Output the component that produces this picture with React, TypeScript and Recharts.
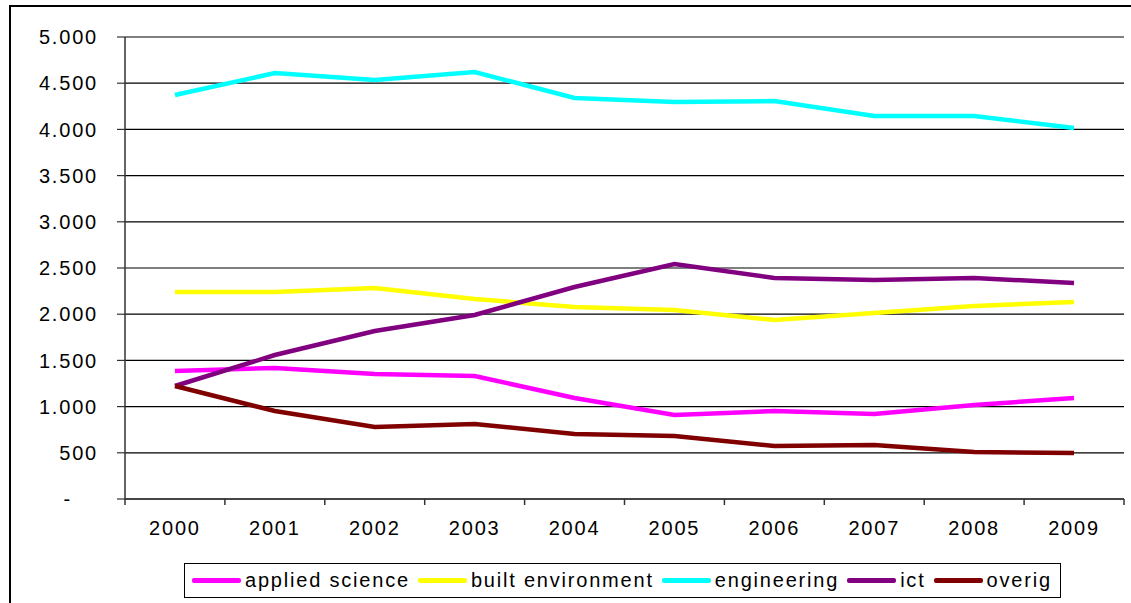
import React from 'react';
import { LineChart, Line, XAxis, YAxis, CartesianGrid } from 'recharts';

const years = [2000, 2001, 2002, 2003, 2004, 2005, 2006, 2007, 2008, 2009];
const appliedScience = [1385, 1418, 1353, 1331, 1093, 909, 952, 920, 1017, 1093];
const builtEnvironment = [2240, 2240, 2284, 2165, 2078, 2045, 1937, 2013, 2089, 2132];
const engineering = [4372, 4610, 4535, 4621, 4340, 4297, 4307, 4145, 4145, 4015];
const ict = [1223, 1558, 1818, 1991, 2294, 2543, 2392, 2370, 2392, 2338];
const overig = [1223, 952, 779, 812, 703, 682, 574, 584, 509, 498];
const yTicks = [0, 500, 1000, 1500, 2000, 2500, 3000, 3500, 4000, 4500, 5000];

const series = [
  { key: 'appliedScience', name: 'applied science', color: '#FF00FF', values: appliedScience },
  { key: 'builtEnvironment', name: 'built environment', color: '#FFFF00', values: builtEnvironment },
  { key: 'engineering', name: 'engineering', color: '#00FFFF', values: engineering },
  { key: 'ict', name: 'ict', color: '#800080', values: ict },
  { key: 'overig', name: 'overig', color: '#800000', values: overig },
];

const data = years.map((year, i) => {
  const row: Record<string, number> = { year };
  series.forEach((s) => {
    row[s.key] = s.values[i];
  });
  return row;
});

const W = 1131;
const H = 603;
const Y_AXIS_W = 125;
const RIGHT = 7;
const HALF_BAND = (W - Y_AXIS_W - RIGHT) / years.length / 2;
const FONT = "'Liberation Sans', Arial, sans-serif";
const FONT_SIZE = 20;
const SPACING = 1.8;

const fmt = (v: number) => String(v).replace(/\B(?=(\d{3})+(?!\d))/g, '.');

const YearTick = (props: any) => {
  const { x, y, payload, index } = props;
  const last = index === years.length - 1;
  return (
    <g>
      <line x1={x - HALF_BAND} x2={x - HALF_BAND} y1={y - 6} y2={y} stroke="#333" strokeWidth={1.5} />
      {last && <line x1={x + HALF_BAND} x2={x + HALF_BAND} y1={y - 6} y2={y} stroke="#333" strokeWidth={1.5} />}
      <text x={x} y={y + 30} textAnchor="middle" fontFamily={FONT} fontSize={FONT_SIZE} letterSpacing={SPACING} fill="#000">
        {payload.value}
      </text>
    </g>
  );
};

const ValueTick = (props: any) => {
  const { x, y, payload } = props;
  const zero = payload.value === 0;
  return (
    <text
      x={zero ? x - 26 : x}
      y={y}
      dy="0.36em"
      textAnchor="end"
      fontFamily={FONT}
      fontSize={FONT_SIZE}
      letterSpacing={SPACING}
      fill="#000"
    >
      {zero ? '-' : fmt(payload.value)}
    </text>
  );
};

export default function App() {
  return (
    <div style={{ position: 'absolute', left: 0, top: 0, width: W, height: H, background: '#fff', overflow: 'hidden' }}>
      <div
        style={{
          position: 'absolute',
          left: 9,
          top: 5,
          width: W + 20,
          height: H + 20,
          borderLeft: '2px solid #000',
          borderTop: '2px solid #000',
        }}
      />
      <div style={{ position: 'absolute', left: 0, top: 0 }}>
        <LineChart width={W} height={H} data={data} margin={{ top: 37, right: RIGHT, left: 0, bottom: 64 }}>
          <CartesianGrid horizontal vertical={false} stroke="#000" strokeWidth={1.2} />
          <XAxis
            dataKey="year"
            type="number"
            domain={[1999.5, 2009.5]}
            ticks={years}
            interval={0}
            tick={<YearTick />}
            tickLine={false}
            tickSize={6}
            tickMargin={0}
            axisLine={{ stroke: '#333', strokeWidth: 1.5 }}
            height={40}
          />
          <XAxis
            xAxisId="top"
            orientation="top"
            type="number"
            domain={[1999.5, 2009.5]}
            tick={false}
            tickLine={false}
            axisLine={{ stroke: '#888', strokeWidth: 2 }}
            height={0}
          />
          <YAxis
            domain={[0, 5000]}
            ticks={yTicks}
            interval={0}
            width={Y_AXIS_W}
            tick={<ValueTick />}
            tickSize={8}
            tickMargin={19}
            tickLine={{ stroke: '#333', strokeWidth: 1.2 }}
            axisLine={{ stroke: '#333', strokeWidth: 1.5 }}
          />
          <YAxis
            yAxisId="right"
            orientation="right"
            domain={[0, 5000]}
            tick={false}
            tickLine={false}
            axisLine={{ stroke: '#888', strokeWidth: 2 }}
            width={0}
          />
          {series.map((s) => (
            <Line
              key={s.key}
              dataKey={s.key}
              name={s.name}
              type="linear"
              stroke={s.color}
              strokeWidth={4.5}
              dot={false}
              activeDot={false}
              isAnimationActive={false}
            />
          ))}
        </LineChart>
      </div>
      <div
        style={{
          position: 'absolute',
          left: 184,
          top: 563,
          width: 877,
          height: 35,
          boxSizing: 'border-box',
          border: '1.5px solid #000',
          display: 'flex',
          alignItems: 'center',
          paddingLeft: 7,
          fontFamily: FONT,
          fontSize: FONT_SIZE,
          letterSpacing: SPACING,
          color: '#000',
          whiteSpace: 'nowrap',
        }}
      >
        {series.map((s) => (
          <div key={s.key} style={{ display: 'flex', alignItems: 'center', marginRight: 8 }}>
            <span style={{ display: 'inline-block', width: 49, height: 4.5, borderRadius: 2, background: s.color, marginRight: 4 }} />
            <span>{s.name}</span>
          </div>
        ))}
      </div>
    </div>
  );
}
